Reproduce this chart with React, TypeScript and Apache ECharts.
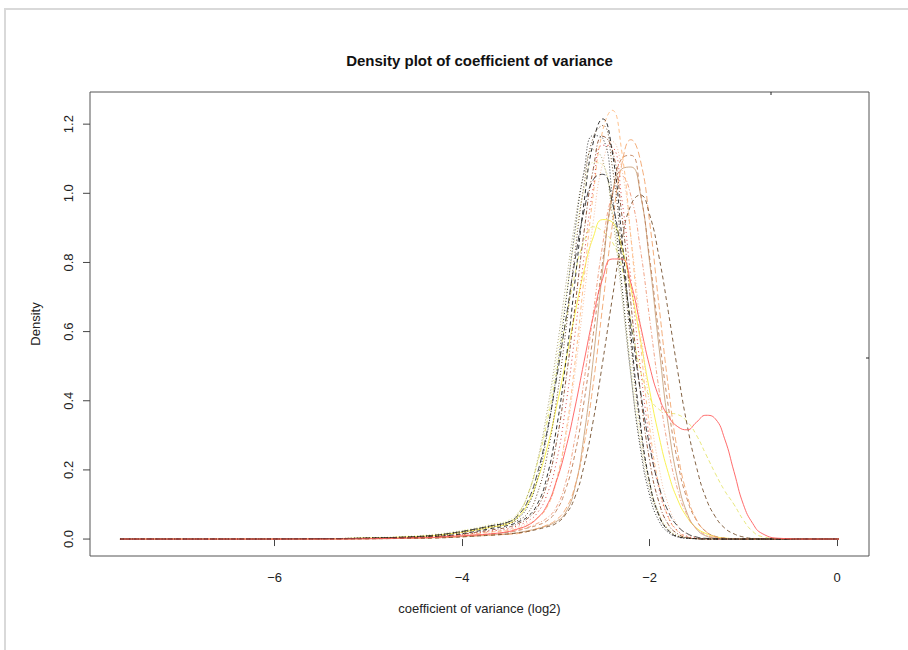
import React, { useEffect, useRef } from "react";
import * as echarts from "echarts";

// x positions (log2 coefficient of variance) at which densities were read
const xGrid = [
  -7.65, -6.5, -5.5, -5.0, -4.6, -4.3, -4.1, -3.9, -3.7, -3.5,
  -3.4, -3.3, -3.2, -3.1, -3.0, -2.9, -2.8, -2.7, -2.6, -2.5,
  -2.4, -2.3, -2.2, -2.1, -2.0, -1.9, -1.8, -1.7, -1.6, -1.5,
  -1.4, -1.3, -1.2, -1.1, -1.0, -0.9, -0.8, -0.6, -0.3, 0.02,
];

const sample01 = [
  0, 0, 0.001, 0.002, 0.004, 0.007, 0.012, 0.02, 0.03, 0.04,
  0.05, 0.065, 0.1, 0.175, 0.31, 0.5, 0.737, 0.973, 1.149, 1.215,
  1.121, 0.882, 0.592, 0.338, 0.164, 0.068, 0.024, 0.007, 0.003, 0.001,
  0, 0, 0, 0, 0, 0, 0, 0, 0, 0,
];
const sample02 = [
  0, 0, 0.001, 0.003, 0.005, 0.009, 0.015, 0.024, 0.034, 0.045,
  0.055, 0.075, 0.13, 0.233, 0.39, 0.59, 0.82, 1.025, 1.163, 1.196,
  1.08, 0.839, 0.563, 0.325, 0.162, 0.07, 0.026, 0.008, 0.003, 0.001,
  0, 0, 0, 0, 0, 0, 0, 0, 0, 0,
];
const sample03 = [
  0, 0, 0.001, 0.003, 0.006, 0.011, 0.017, 0.026, 0.037, 0.05,
  0.075, 0.128, 0.224, 0.36, 0.531, 0.724, 0.911, 1.055, 1.126, 1.095,
  0.94, 0.71, 0.472, 0.276, 0.141, 0.065, 0.026, 0.009, 0.003, 0.001,
  0, 0, 0, 0, 0, 0, 0, 0, 0, 0,
];
const sample04 = [
  0, 0, 0.001, 0.002, 0.004, 0.007, 0.011, 0.018, 0.026, 0.035,
  0.045, 0.06, 0.09, 0.155, 0.271, 0.447, 0.664, 0.888, 1.072, 1.165,
  1.128, 0.945, 0.681, 0.426, 0.227, 0.106, 0.042, 0.015, 0.004, 0.001,
  0, 0, 0, 0, 0, 0, 0, 0, 0, 0,
];
const sample05 = [
  0, 0, 0.001, 0.002, 0.003, 0.006, 0.009, 0.014, 0.02, 0.025,
  0.03, 0.04, 0.06, 0.09, 0.165, 0.297, 0.502, 0.752, 1.0, 1.182,
  1.24, 1.126, 0.872, 0.574, 0.323, 0.155, 0.063, 0.022, 0.006, 0.002,
  0, 0, 0, 0, 0, 0, 0, 0, 0, 0,
];
const sample06 = [
  0, 0, 0.001, 0.002, 0.004, 0.007, 0.01, 0.016, 0.023, 0.03,
  0.04, 0.052, 0.075, 0.125, 0.216, 0.375, 0.584, 0.816, 1.019, 1.139,
  1.135, 0.99, 0.752, 0.499, 0.288, 0.144, 0.063, 0.024, 0.008, 0.003,
  0.001, 0, 0, 0, 0, 0, 0, 0, 0, 0,
];
const sample07 = [
  0, 0, 0.001, 0.003, 0.006, 0.011, 0.018, 0.027, 0.038, 0.05,
  0.07, 0.11, 0.188, 0.304, 0.453, 0.624, 0.8, 0.949, 1.04, 1.055,
  0.976, 0.818, 0.623, 0.432, 0.269, 0.153, 0.079, 0.037, 0.016, 0.006,
  0.002, 0.001, 0, 0, 0, 0, 0, 0, 0, 0,
];
const sample08 = [
  0, 0, 0, 0.001, 0.002, 0.003, 0.005, 0.008, 0.011, 0.014,
  0.016, 0.022, 0.03, 0.04, 0.055, 0.085, 0.15, 0.273, 0.452, 0.677,
  0.904, 1.08, 1.155, 1.097, 0.917, 0.675, 0.439, 0.25, 0.127, 0.056,
  0.022, 0.007, 0.002, 0.001, 0, 0, 0, 0, 0, 0,
];
const sample09 = [
  0, 0, 0, 0.001, 0.002, 0.004, 0.006, 0.009, 0.012, 0.015,
  0.019, 0.024, 0.03, 0.038, 0.05, 0.075, 0.145, 0.299, 0.524, 0.781,
  0.993, 1.07, 1.076, 1.0, 0.8, 0.555, 0.328, 0.17, 0.075, 0.029,
  0.009, 0.003, 0.001, 0, 0, 0, 0, 0, 0, 0,
];
const sample10 = [
  0, 0, 0, 0.001, 0.002, 0.004, 0.006, 0.01, 0.014, 0.02,
  0.025, 0.032, 0.04, 0.052, 0.08, 0.14, 0.242, 0.397, 0.595, 0.805,
  0.988, 1.1, 1.11, 1.005, 0.813, 0.589, 0.382, 0.222, 0.115, 0.054,
  0.022, 0.008, 0.003, 0.001, 0, 0, 0, 0, 0, 0,
];
const sample11 = [
  0, 0, 0, 0.001, 0.002, 0.003, 0.005, 0.008, 0.011, 0.015,
  0.018, 0.022, 0.028, 0.035, 0.045, 0.07, 0.119, 0.212, 0.345, 0.514,
  0.693, 0.858, 0.966, 0.995, 0.938, 0.816, 0.656, 0.485, 0.33, 0.208,
  0.119, 0.065, 0.032, 0.015, 0.006, 0.002, 0.001, 0, 0, 0,
];
const sample12 = [
  0, 0, 0.001, 0.003, 0.006, 0.01, 0.016, 0.024, 0.034, 0.045,
  0.065, 0.102, 0.168, 0.258, 0.374, 0.507, 0.647, 0.776, 0.874, 0.924,
  0.917, 0.846, 0.726, 0.579, 0.429, 0.297, 0.19, 0.113, 0.063, 0.032,
  0.016, 0.007, 0.003, 0.001, 0, 0, 0, 0, 0, 0,
];
const sample13 = [
  0, 0, 0.001, 0.003, 0.006, 0.011, 0.017, 0.026, 0.037, 0.05,
  0.072, 0.129, 0.217, 0.33, 0.471, 0.623, 0.762, 0.861, 0.903, 0.89,
  0.86, 0.79, 0.63, 0.49, 0.41, 0.375, 0.365, 0.36, 0.34, 0.3,
  0.245, 0.19, 0.14, 0.1, 0.055, 0.022, 0.007, 0.001, 0, 0,
];
const sample14 = [
  0, 0, 0, 0.001, 0.003, 0.005, 0.008, 0.011, 0.015, 0.022,
  0.03, 0.04, 0.06, 0.095, 0.163, 0.256, 0.376, 0.513, 0.646, 0.754,
  0.81, 0.81, 0.74, 0.62, 0.5, 0.41, 0.355, 0.325, 0.316, 0.338,
  0.358, 0.348, 0.29, 0.195, 0.1, 0.045, 0.016, 0.002, 0, 0,
];
const sample15 = [
  0, 0, 0.001, 0.002, 0.004, 0.006, 0.01, 0.015, 0.021, 0.028,
  0.035, 0.045, 0.06, 0.09, 0.16, 0.286, 0.473, 0.698, 0.921, 1.088,
  1.15, 1.074, 0.874, 0.621, 0.384, 0.207, 0.098, 0.04, 0.014, 0.005,
  0.001, 0, 0, 0, 0, 0, 0, 0, 0, 0,
];
const sample16 = [
  0, 0, 0.001, 0.004, 0.008, 0.014, 0.021, 0.03, 0.042, 0.055,
  0.078, 0.127, 0.218, 0.342, 0.504, 0.686, 0.865, 1.009, 1.089, 1.082,
  0.952, 0.738, 0.504, 0.303, 0.161, 0.075, 0.03, 0.011, 0.004, 0.001,
  0, 0, 0, 0, 0, 0, 0, 0, 0, 0,
];
const sample17 = [
  0, 0, 0, 0.001, 0.002, 0.004, 0.007, 0.011, 0.015, 0.02,
  0.026, 0.034, 0.045, 0.06, 0.09, 0.16, 0.287, 0.457, 0.657, 0.853,
  0.997, 1.05, 0.993, 0.841, 0.637, 0.432, 0.261, 0.142, 0.069, 0.03,
  0.012, 0.004, 0.001, 0, 0, 0, 0, 0, 0, 0,
];
const sample18 = [
  0, 0, 0.001, 0.003, 0.006, 0.011, 0.018, 0.027, 0.038, 0.05,
  0.062, 0.095, 0.17, 0.294, 0.466, 0.672, 0.885, 1.064, 1.167, 1.159,
  0.999, 0.743, 0.477, 0.264, 0.126, 0.052, 0.019, 0.006, 0.002, 0.001,
  0, 0, 0, 0, 0, 0, 0, 0, 0, 0,
];

const xTicks = [-6, -4, -2, 0];
const yTicks = [0, 0.2, 0.4, 0.6, 0.8, 1.0, 1.2];

const titleText = "Density plot of coefficient of variance";
const xLabel = "coefficient of variance (log2)";
const yLabel = "Density";

// styling (kept separate from the data)
const DOTTED = [1, 2];
const DASHED = [4, 3];
const DOTDASH = [1, 2, 4, 2];
const LONGDASH = [6, 3];

const curves = [
  { name: "s13", data: sample13, color: "#e4e46a", dash: DASHED },
  { name: "s16", data: sample16, color: "#e6e68c", dash: DOTTED },
  { name: "s12", data: sample12, color: "#f8f040", dash: "solid" },
  { name: "s09", data: sample09, color: "#c9a27c", dash: "solid" },
  { name: "s10", data: sample10, color: "#c08058", dash: DASHED },
  { name: "s08", data: sample08, color: "#f2a46c", dash: LONGDASH },
  { name: "s17", data: sample17, color: "#f09a7a", dash: DOTDASH },
  { name: "s15", data: sample15, color: "#f5bc9c", dash: DOTTED },
  { name: "s05", data: sample05, color: "#ffba80", dash: DASHED },
  { name: "s11", data: sample11, color: "#74502e", dash: DASHED },
  { name: "s03", data: sample03, color: "#a49c70", dash: DOTTED },
  { name: "s04", data: sample04, color: "#8b4a2b", dash: DOTDASH },
  { name: "s06", data: sample06, color: "#d83434", dash: [1, 3] },
  { name: "s07", data: sample07, color: "#333333", dash: LONGDASH },
  { name: "s02", data: sample02, color: "#5c3a1a", dash: DOTTED },
  { name: "s18", data: sample18, color: "#222222", dash: DOTTED },
  { name: "s01", data: sample01, color: "#1a1a1a", dash: DASHED },
  { name: "s14", data: sample14, color: "#ff5c5c", dash: "solid" },
];

const FONT = "'Liberation Sans', Arial, Helvetica, sans-serif";

function fmtX(v: number): string {
  return v < 0 ? "\u2212" + String(Math.abs(v)) : String(v);
}

export default function App() {
  const ref = useRef<HTMLDivElement>(null);

  useEffect(() => {
    if (!ref.current) return;
    const chart = echarts.init(ref.current, undefined, { renderer: "svg" });

    const series = curves.map((c) => ({
      name: c.name,
      type: "line",
      data: xGrid.map((x, i) => [x, c.data[i]]),
      symbol: "none",
      showSymbol: false,
      smooth: 0.5,
      silent: true,
      lineStyle: { color: c.color, width: 1, type: c.dash, opacity: 0.9 },
    }));

    const baseGraphic: any[] = [
      { id: "frameTop", type: "rect", left: 4, top: 8, shape: { width: 904, height: 2 }, style: { fill: "#d9d9d9" }, silent: true },
      { id: "frameLeft", type: "rect", left: 4, top: 8, shape: { width: 2, height: 642 }, style: { fill: "#d9d9d9" }, silent: true },
      {
        id: "title",
        type: "text",
        x: 479.5,
        y: 60,
        style: {
          text: titleText,
          font: `bold 15px ${FONT}`,
          fill: "#111111",
          textAlign: "center",
          textVerticalAlign: "middle",
        },
        silent: true,
      },
      {
        id: "xname",
        type: "text",
        x: 479.5,
        y: 608,
        style: {
          text: xLabel,
          font: `13px ${FONT}`,
          fill: "#222222",
          textAlign: "center",
          textVerticalAlign: "middle",
        },
        silent: true,
      },
      {
        id: "yname",
        type: "text",
        x: 35,
        y: 324,
        rotation: Math.PI / 2,
        style: {
          text: yLabel,
          font: `13px ${FONT}`,
          fill: "#222222",
          textAlign: "center",
          textVerticalAlign: "middle",
        },
        silent: true,
      },
      { id: "mark1", type: "line", shape: { x1: 771, y1: 92, x2: 771, y2: 95 }, style: { stroke: "#222222", lineWidth: 1 }, silent: true },
      { id: "mark2", type: "line", shape: { x1: 866, y1: 358, x2: 869, y2: 358 }, style: { stroke: "#222222", lineWidth: 1 }, silent: true },
    ];

    chart.setOption({
      animation: false,
      backgroundColor: "#ffffff",
      textStyle: { fontFamily: FONT },
      grid: {
        left: 90,
        top: 92,
        width: 779,
        height: 464,
        show: true,
        borderColor: "#555555",
        borderWidth: 1,
        backgroundColor: "transparent",
        containLabel: false,
      },
      xAxis: {
        type: "value",
        min: -7.97,
        max: 0.34,
        axisLine: { show: false },
        splitLine: { show: false },
        axisTick: {
          show: true,
          length: 7,
          customValues: xTicks,
          lineStyle: { color: "#444444", width: 1 },
        },
        axisLabel: {
          customValues: xTicks,
          formatter: (v: number) => fmtX(v),
          fontSize: 13,
          color: "#222222",
          fontFamily: FONT,
          margin: 15,
        },
      },
      yAxis: {
        type: "value",
        min: -0.049,
        max: 1.293,
        axisLine: { show: false },
        splitLine: { show: false },
        axisTick: { show: false },
        axisLabel: {
          customValues: yTicks,
          formatter: (v: number) => v.toFixed(1),
          rotate: 90,
          fontSize: 13,
          color: "#222222",
          fontFamily: FONT,
          margin: 15,
        },
      },
      graphic: baseGraphic,
      series,
    });

    // y-axis tick marks, positioned through the y axis scale
    const left = 90;
    const tickGraphic = yTicks.map((v, i) => {
      const py = chart.convertToPixel({ yAxisIndex: 0 }, v) as number;
      return {
        id: "ytick" + i,
        type: "line",
        shape: { x1: left - 7, y1: py, x2: left, y2: py },
        style: { stroke: "#444444", lineWidth: 1 },
        silent: true,
      };
    });
    chart.setOption({ graphic: [...baseGraphic, ...tickGraphic] });

    return () => {
      chart.dispose();
    };
  }, []);

  return (
    <div
      ref={ref}
      style={{ position: "fixed", left: 0, top: 0, width: 908, height: 650, background: "#ffffff" }}
    />
  );
}
